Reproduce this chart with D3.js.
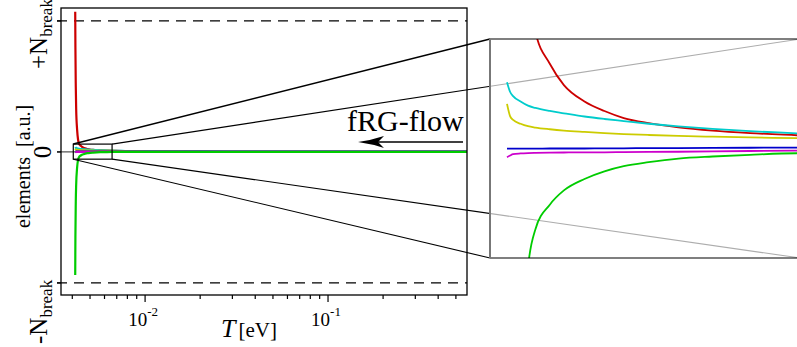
<!DOCTYPE html>
<html>
<head>
<meta charset="utf-8">
<script src="https://cdn.jsdelivr.net/npm/d3@7"></script>
<style>
  html, body { margin: 0; padding: 0; background: #fff; }
  svg { display: block; }
  svg text { font-family: "Liberation Serif", "Times New Roman", Times, serif; fill: #000; }
</style>
</head>
<body>
<svg id="chart" width="797" height="347"></svg>
<script>
// Temperature grid [eV] shared by all flow components
const temps = [4.15e-3, 4.16e-3, 4.18e-3, 4.2e-3, 4.25e-3, 4.3e-3, 4.35e-3, 4.45e-3,
  4.55e-3, 4.7e-3, 4.85e-3, 5.0e-3, 5.2e-3, 5.45e-3, 5.75e-3, 6.1e-3, 6.6e-3,
  7.5e-3, 9e-3, 1.2e-2, 2e-2, 4e-2, 0.1, 0.2, 0.4, 0.575];

// Vertex elements in units of N_break (null = not yet defined at that T)
const redVals = [1.07, 0.80, 0.50, 0.33, 0.17, 0.095, 0.064, 0.047, 0.0358, 0.0272, 0.0222,
  0.0185, 0.0158, 0.0136, 0.0119, 0.0106, 0.0094, 0.0075, 0.005, 0.003, 0.002, 0.0015, 0.001, 0.001, 0.001, 0.001];
const cyanVals = [null, 0.0373, 0.0323, 0.030, 0.0272, 0.025, 0.0238, 0.0222, 0.021, 0.0193, 0.018,
  0.0169, 0.0155, 0.0141, 0.0128, 0.0116, 0.0104, 0.008, 0.0055, 0.0035, 0.002, 0.0012, 0.0008, 0.0006, 0.0005, 0.0005];
const yellowVals = [null, 0.0259, 0.0195, 0.0175, 0.0155, 0.0142, 0.0135, 0.0126, 0.0119, 0.0112, 0.0106,
  0.0101, 0.0096, 0.0091, 0.0087, 0.0083, 0.0079, 0.0065, 0.0045, 0.003, 0.0015, 0.001, 0.0006, 0.0005, 0.0004, 0.0004];
const blueVals = [null, 0.0024, 0.0024, 0.0024, 0.0024, 0.0024, 0.0024, 0.0025, 0.0025, 0.0025, 0.0026,
  0.0026, 0.0027, 0.0027, 0.0028, 0.0029, 0.003, 0.003, 0.003, 0.003, 0.003, 0.003, 0.003, 0.003, 0.003, 0.003];
const magentaVals = [null, -0.0021, -0.0012, -0.0005, -0.0001, 0.0001, 0.0002, 0.0003, 0.0004, 0.0005, 0.0005,
  0.0006, 0.0007, 0.0008, 0.001, 0.0012, 0.0014, 0.0012, 0.001, 0.001, 0.001, 0.001, 0.001, 0.001, 0.001, 0.001];
const greenVals = [-0.94, -0.65, -0.38, -0.25, -0.12, -0.06, -0.04, -0.027, -0.0195, -0.0135, -0.0095,
  -0.0068, -0.0047, -0.0028, -0.0017, -0.0008, 0.0, 0.0, 0.0, 0.0, 0.0, 0.0, 0.0, 0.0, 0.0, 0.0];

const seriesColors = ["#cc0000", "#00cccc", "#cccc00", "#0000cc", "#cc00cc", "#00cc00"];
const seriesList = [redVals, cyanVals, yellowVals, blueVals, magentaVals, greenVals];

// Axis ticks
const xMajorTicks = [0.01, 0.1];
const xMajorExp = ["-2", "-1"];
const xMinorTicks = [4e-3, 5e-3, 6e-3, 7e-3, 8e-3, 9e-3, 2e-2, 3e-2, 4e-2, 5e-2, 6e-2, 7e-2, 8e-2, 9e-2, 0.2, 0.3, 0.4, 0.5];
const yTicks = [1, 0, -1];
const breakLevels = [1, -1];

// Zoomed window (temperature and element range)
const zoomT = [4.05e-3, 6.6e-3];
const zoomV = [-0.055, 0.06];

const svg = d3.select("#chart");

const plot = { left: 61, right: 467, top: 8, bottom: 295 };
const x = d3.scaleLog().domain([3.47e-3, 0.575]).range([plot.left, plot.right]);
const y = d3.scaleLinear().domain([-1.092, 1.099]).range([plot.bottom, plot.top]);

const inset = { left: 490, right: 800, top: 39, bottom: 258 };
const xi = d3.scaleLog().domain(zoomT).range([inset.left, inset.right]);
const yi = d3.scaleLinear().domain(zoomV).range([inset.bottom, inset.top]);

const rows = temps.map((t, i) => ({ t, i }));

function lineGen(xs, ys, vals) {
  return d3.line()
    .defined(d => vals[d.i] !== null)
    .x(d => xs(d.t))
    .y(d => ys(vals[d.i]))
    .curve(d3.curveMonotoneX);
}

// ---- main panel ----
const main = svg.append("g");

main.append("defs").append("clipPath").attr("id", "mainClip")
  .append("rect").attr("x", plot.left).attr("y", plot.top)
  .attr("width", plot.right - plot.left).attr("height", plot.bottom - plot.top);

// dashed N_break levels
main.selectAll("line.break").data(breakLevels).join("line")
  .attr("class", "break")
  .attr("x1", plot.left - 4).attr("x2", plot.right)
  .attr("y1", d => y(d)).attr("y2", d => y(d))
  .attr("stroke", "#000").attr("stroke-width", 1.2)
  .attr("stroke-dasharray", "10,7");

// zero reference line
main.append("line")
  .attr("x1", plot.left - 4).attr("x2", plot.right)
  .attr("y1", y(0)).attr("y2", y(0))
  .attr("stroke", "#555").attr("stroke-width", 1.2);

// curves
const curves = main.append("g").attr("clip-path", "url(#mainClip)");
seriesList.forEach((vals, k) => {
  curves.append("path")
    .datum(rows)
    .attr("d", lineGen(x, y, vals))
    .attr("fill", "none")
    .attr("stroke", seriesColors[k])
    .attr("stroke-width", 2.2);
});

// frame
main.append("rect")
  .attr("x", plot.left).attr("y", plot.top)
  .attr("width", plot.right - plot.left).attr("height", plot.bottom - plot.top)
  .attr("fill", "none").attr("stroke", "#000").attr("stroke-width", 1.3);

// x ticks
main.selectAll("line.xminor").data(xMinorTicks).join("line")
  .attr("class", "xminor")
  .attr("x1", d => x(d)).attr("x2", d => x(d))
  .attr("y1", plot.bottom).attr("y2", plot.bottom + 4)
  .attr("stroke", "#000").attr("stroke-width", 1.2);
main.selectAll("line.xmajor").data(xMajorTicks).join("line")
  .attr("class", "xmajor")
  .attr("x1", d => x(d)).attr("x2", d => x(d))
  .attr("y1", plot.bottom).attr("y2", plot.bottom + 7)
  .attr("stroke", "#000").attr("stroke-width", 1.2);

// x tick labels 10^n
const xl = main.selectAll("text.xlab").data(xMajorTicks).join("text")
  .attr("class", "xlab")
  .attr("x", d => x(d) - 2).attr("y", 326)
  .attr("text-anchor", "middle")
  .attr("font-size", 19);
xl.append("tspan").text("10");
xl.append("tspan").attr("dy", -10).attr("font-size", 13).text((d, i) => xMajorExp[i]);

// x axis title
const xt = main.append("text").attr("x", 221).attr("y", 337);
xt.append("tspan").attr("font-style", "italic").attr("font-size", 26).text("T");
xt.append("tspan").attr("font-size", 21).attr("dx", 3).text("[eV]");

// y ticks
main.selectAll("line.ytick").data(yTicks).join("line")
  .attr("class", "ytick")
  .attr("x1", plot.left - 4).attr("x2", plot.left)
  .attr("y1", d => y(d)).attr("y2", d => y(d))
  .attr("stroke", "#000").attr("stroke-width", 1.2);

// y tick labels (rotated)
function nBreakLabel(sign, yPos) {
  const t = main.append("text")
    .attr("transform", `translate(47,${yPos}) rotate(-90)`)
    .attr("text-anchor", "start");
  t.append("tspan").attr("font-size", 25).text(sign + "N");
  t.append("tspan").attr("font-size", 17).attr("dy", 5).text("break");
}
nBreakLabel("+", 69);
nBreakLabel("-", 344);

main.append("text")
  .attr("transform", `translate(51,${y(0)}) rotate(-90)`)
  .attr("text-anchor", "middle").attr("font-size", 25).text("0");

// y axis title: quantity and unit
const yTitle = main.append("text")
  .attr("transform", "translate(30,228) rotate(-90) scale(1,1.1)")
  .attr("text-anchor", "start").attr("font-size", 20);
yTitle.append("tspan").attr("x", 0).text("elements");
yTitle.append("tspan").attr("x", 81).text("[a.u.]");

// zoom window marker
main.append("rect")
  .attr("x", x(zoomT[0])).attr("y", y(zoomV[1]))
  .attr("width", x(zoomT[1]) - x(zoomT[0])).attr("height", y(zoomV[0]) - y(zoomV[1]))
  .attr("fill", "none").attr("stroke", "#000").attr("stroke-width", 1.2);

// connector lines from the marker to the magnified panel
const connectors = [
  [zoomT[0], zoomV[1], inset.left, inset.top, 1.5],
  [zoomT[1], zoomV[1], inset.right, inset.top, 1.1],
  [zoomT[0], zoomV[0], inset.left, inset.bottom, 1.1],
  [zoomT[1], zoomV[0], inset.right, inset.bottom, 1.1]
];
svg.selectAll("line.conn").data(connectors).join("line")
  .attr("class", "conn")
  .attr("x1", d => x(d[0])).attr("y1", d => y(d[1]))
  .attr("x2", d => d[2]).attr("y2", d => d[3])
  .attr("stroke", "#000").attr("stroke-width", d => d[4]);

// flow direction annotation: shaft plus barbed head pointing to lower T
const arrowY = 142, arrowTip = 358, arrowEnd = 463;
svg.append("line")
  .attr("x1", arrowEnd).attr("x2", arrowTip + 12).attr("y1", arrowY).attr("y2", arrowY)
  .attr("stroke", "#000").attr("stroke-width", 1.6);
svg.append("path")
  .attr("d", `M${arrowTip},${arrowY} Q${arrowTip + 14},${arrowY - 2} ${arrowTip + 26},${arrowY - 6}
              L${arrowTip + 20},${arrowY} L${arrowTip + 26},${arrowY + 6}
              Q${arrowTip + 14},${arrowY + 2} ${arrowTip},${arrowY} Z`)
  .attr("fill", "#000");

svg.append("text")
  .attr("x", 347).attr("y", 131)
  .attr("font-size", 30).text("fRG-flow");

// ---- magnified panel ----
const ins = svg.append("g");
ins.append("defs").append("clipPath").attr("id", "insetClip")
  .append("rect").attr("x", inset.left).attr("y", inset.top)
  .attr("width", inset.right - inset.left).attr("height", inset.bottom - inset.top);

ins.append("rect")
  .attr("x", inset.left).attr("y", inset.top)
  .attr("width", inset.right - inset.left).attr("height", inset.bottom - inset.top)
  .attr("fill", "#fff").attr("fill-opacity", 0.68);

const icurves = ins.append("g").attr("clip-path", "url(#insetClip)");
seriesList.forEach((vals, k) => {
  icurves.append("path")
    .datum(rows)
    .attr("d", lineGen(xi, yi, vals))
    .attr("fill", "none")
    .attr("stroke", seriesColors[k])
    .attr("stroke-width", 1.8);
});

ins.append("line")
  .attr("x1", inset.left).attr("x2", inset.right)
  .attr("y1", inset.top).attr("y2", inset.top)
  .attr("stroke", "#000").attr("stroke-width", 1.2);
ins.append("line")
  .attr("x1", inset.left).attr("x2", inset.right)
  .attr("y1", inset.bottom).attr("y2", inset.bottom)
  .attr("stroke", "#000").attr("stroke-width", 1.2);
ins.append("line")
  .attr("x1", inset.left).attr("x2", inset.left)
  .attr("y1", inset.top).attr("y2", inset.bottom)
  .attr("stroke", "#777").attr("stroke-width", 2);
</script>
</body>
</html>
